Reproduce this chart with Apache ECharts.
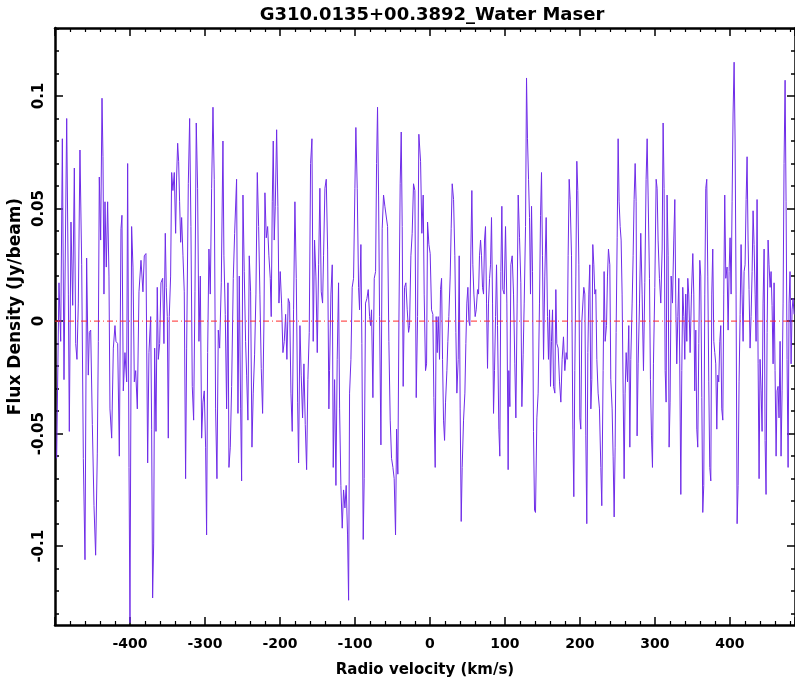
<!DOCTYPE html>
<html>
<head>
<meta charset="utf-8">
<script src="https://cdn.jsdelivr.net/npm/echarts@6/dist/echarts.min.js"></script>
<style>html,body{margin:0;padding:0;background:#fff}#c{width:795px;height:683px}</style>
</head>
<body>
<div id="c"></div>
<script>
const velocity = [
-497.8,-494.7,-492.4,-490.2,-488.0,-484.4,-482.2,-480.9,-478.7,-476.4,
-474.2,-472.4,-470.7,-468.9,-466.7,-464.4,-462.2,-460.0,-457.8,-455.6,
-454.2,-452.4,-450.2,-448.0,-445.8,-443.6,-442.2,-440.9,-439.1,-437.3,
-436.0,-434.7,-433.3,-431.6,-429.8,-428.0,-426.7,-424.4,-422.2,-420.0,
-418.7,-416.4,-414.2,-412.0,-410.7,-408.9,-406.7,-404.4,-403.1,-401.3,
-400.0,-397.8,-396.0,-394.2,-392.4,-390.2,-388.0,-385.3,-382.7,-380.9,
-378.7,-376.4,-374.7,-372.4,-371.1,-369.8,-368.4,-367.1,-365.3,-363.6,
-362.2,-360.4,-358.7,-356.4,-354.7,-352.9,-351.6,-350.2,-348.9,-347.6,
-345.8,-344.4,-342.7,-340.9,-339.1,-337.8,-336.4,-335.1,-333.8,-332.4,
-331.1,-329.3,-327.6,-325.8,-324.4,-322.2,-320.4,-318.7,-316.9,-315.1,
-313.3,-311.6,-309.8,-308.0,-306.2,-304.4,-302.7,-300.9,-299.1,-297.8,
-296.4,-294.7,-292.9,-291.1,-289.3,-287.6,-285.8,-284.0,-282.2,-280.4,
-278.2,-276.0,-274.7,-272.9,-271.1,-269.3,-268.0,-266.2,-264.4,-262.2,
-260.4,
-257.8,-256.0,-254.2,-252.4,-251.1,-249.3,-247.6,-245.8,-244.4,-242.7,
-240.9,-239.1,-237.3,-235.6,-233.8,-232.0,-230.2,-228.4,-226.7,-224.9,
-223.1,-221.3,-220.0,-218.2,-216.4,-214.7,-212.9,-211.6,-210.2,-208.9,
-207.6,-206.2,-204.4,-202.7,-201.3,-199.6,-197.8,-196.0,-194.2,-192.4,
-190.7,-188.9,-187.1,-185.3,-183.6,-181.8,-180.0,-178.2,-176.4,-175.1,
-173.3,-171.6,-169.8,-168.0,-166.2,-164.4,-162.7,-160.9,-159.1,-157.3,
-155.6,-153.8,-152.0,-150.2,-148.4,-146.7,-144.9,-143.1,-141.8,-140.0,
-138.2,-136.4,-134.7,
-133.8,-132.0,-130.2,-128.9,-127.1,-125.3,-123.6,-121.8,-120.4,-118.7,
-116.9,-115.1,-113.3,-111.6,-109.8,-108.4,-107.1,-105.3,-103.6,-101.8,
-100.0,-98.7,-96.9,-95.1,-93.8,-92.0,-90.7,-88.9,-87.6,-85.8,
-84.0,-82.2,-80.4,-79.1,-77.8,-76.0,-74.2,-72.4,-71.1,-69.8,
-68.4,-67.1,-65.3,-63.6,-61.8,-60.0,-58.2,-56.4,-54.7,-52.9,
-51.1,-49.3,-47.6,-45.8,-44.4,-42.7,-41.3,-39.6,-38.2,-36.9,
-35.6,-33.8,-32.0,-30.2,-28.4,-27.1,-25.3,-23.6,-21.8,-20.0,
-18.2,-16.4,-14.7,
-12.4,-10.7,-8.9,-7.6,-5.8,-4.4,-3.1,-1.3,0.4,2.2,
4.0,5.3,7.1,8.4,9.8,11.1,12.9,14.2,15.6,16.9,
18.2,19.6,20.9,22.7,24.0,25.3,27.1,28.4,29.8,31.6,
33.3,34.7,36.0,37.8,39.1,40.4,41.8,43.1,44.9,46.7,
48.0,49.3,50.7,52.0,53.3,54.7,56.0,57.3,58.7,60.4,
61.8,63.6,64.9,66.2,67.6,68.9,70.2,71.6,72.9,74.2,
75.6,76.9,78.2,79.6,80.9,82.2,83.6,84.9,86.2,87.6,
88.9,90.2,92.0,93.3,94.7,96.0,97.3,99.1,100.9,102.7,
104.4,
105.3,106.7,108.0,109.8,111.6,113.3,114.7,116.4,117.8,119.6,
121.3,122.7,124.4,125.8,127.6,128.9,130.2,131.6,132.9,134.2,
135.6,136.9,138.2,139.6,140.9,142.7,144.4,146.2,147.6,148.9,
150.2,151.6,153.3,155.1,156.9,158.2,159.6,160.9,162.2,163.6,
164.9,166.7,168.0,169.3,171.1,172.9,174.7,176.4,178.2,180.0,
181.8,183.1,184.4,185.8,187.1,188.9,190.7,192.0,193.3,194.7,
196.0,197.3,198.7,200.0,201.3,202.7,204.0,205.3,206.7,208.0,
209.3,210.7,212.0,213.3,214.7,216.0,217.3,218.7,220.0,221.3,
222.7,
224.4,226.2,228.0,229.3,231.1,232.4,233.8,235.6,236.9,238.2,
240.0,241.3,243.1,244.4,245.8,247.1,248.4,249.8,251.1,252.4,
253.8,255.1,256.4,257.8,259.1,260.4,261.8,263.6,265.3,266.7,
268.0,269.8,271.1,272.4,273.8,275.1,276.4,277.8,279.6,281.3,
283.1,284.9,286.7,288.4,289.8,291.1,292.9,294.2,295.6,296.9,
298.2,300.0,301.8,303.1,304.4,306.2,308.0,309.8,311.1,312.4,
313.8,315.1,316.4,317.8,319.1,320.4,321.8,323.6,325.3,326.7,
328.0,329.3,330.7,332.0,333.3,334.7,336.0,337.3,338.7,340.0,
341.3,342.7,344.0,345.3,
347.1,348.9,350.7,352.0,353.3,354.7,356.0,357.3,358.7,360.0,
361.3,362.7,364.0,365.3,366.7,368.0,369.3,370.7,372.0,373.3,
374.7,376.0,377.3,378.7,380.0,381.3,382.7,384.0,385.3,386.7,
388.0,389.3,390.7,392.0,393.3,394.7,396.4,397.8,399.1,400.4,
401.8,403.1,404.4,405.8,407.1,408.4,409.8,411.1,412.4,413.8,
415.1,416.4,417.8,419.1,420.4,421.8,423.1,424.4,425.7,427.1,
428.4,429.8,431.1,432.4,433.8,435.1,436.4,437.8,439.1,440.4,
441.8,443.1,444.4,445.8,447.1,448.4,449.8,451.1,452.4,453.8,
455.1,456.4,457.8,459.1,460.4,461.8,463.1,464.4,465.7,467.1,
468.4,469.8,471.1,472.4,473.8,475.1,476.4,477.8,479.1,480.4,
481.8,483.1,484.4,485.8
];
const flux = [
-0.061,0.017,-0.009,0.081,-0.026,0.090,0.012,-0.049,0.044,0.007,
0.068,-0.010,-0.017,0.008,0.076,0.025,-0.061,-0.106,0.028,-0.024,
-0.005,-0.004,-0.046,-0.082,-0.104,-0.059,-0.009,0.064,0.036,0.099,
0.073,0.012,0.053,0.024,0.053,0.020,-0.039,-0.052,-0.012,-0.002,
-0.009,-0.010,-0.060,0.041,0.047,-0.031,-0.014,-0.027,0.070,-0.065,
-0.134,0.042,0.024,-0.027,-0.022,-0.039,0.013,0.027,0.013,0.029,
0.030,-0.063,-0.014,0.002,-0.048,-0.123,-0.099,-0.012,-0.049,0.015,
-0.017,-0.010,0.017,0.019,-0.010,0.039,0.015,0.002,-0.052,0.002,
0.020,0.066,0.058,0.066,0.039,0.064,0.079,0.071,0.053,0.035,
0.046,0.029,0.013,-0.070,-0.012,0.061,0.090,0.042,-0.029,-0.044,
0.013,0.088,0.059,-0.009,0.020,-0.052,-0.036,-0.031,-0.056,-0.095,
-0.014,0.032,0.012,0.059,0.095,0.063,-0.039,-0.070,-0.004,-0.012,
0.017,0.080,0.029,0.003,-0.039,0.017,-0.065,-0.056,-0.029,0.019,
0.039,
0.063,-0.041,0.020,-0.039,-0.071,0.056,0.022,-0.009,-0.024,-0.044,
0.029,0.013,-0.056,-0.032,-0.015,0.012,0.066,0.042,0.012,-0.021,
-0.041,0.000,0.057,0.037,0.042,0.029,0.019,0.002,0.053,0.080,
0.036,0.051,0.085,0.051,0.008,0.022,0.008,-0.014,-0.009,0.003,
-0.017,0.010,0.008,-0.032,-0.049,0.005,0.053,0.019,-0.036,-0.063,
-0.002,-0.024,-0.043,-0.019,-0.046,-0.066,-0.026,-0.005,0.070,0.081,
-0.009,0.036,0.020,-0.014,0.025,0.059,0.013,0.008,0.029,0.059,
0.063,0.032,-0.039,
-0.022,0.012,0.025,-0.065,-0.026,-0.073,-0.017,0.017,-0.039,-0.073,
-0.092,-0.075,-0.083,-0.073,-0.095,-0.124,-0.032,-0.017,0.015,0.019,
0.059,0.086,0.059,0.015,0.005,0.034,-0.010,-0.097,-0.070,0.008,
0.010,0.014,0.002,-0.002,0.005,-0.034,0.019,0.022,0.070,0.095,
0.056,0.002,-0.055,0.041,0.056,0.051,0.051,0.042,-0.009,-0.044,
-0.061,-0.065,-0.070,-0.095,-0.048,-0.068,0.000,0.061,0.084,0.042,
-0.029,0.015,0.017,0.005,-0.005,-0.002,0.029,0.039,0.061,0.058,
-0.034,0.002,0.083,
0.071,0.039,0.056,0.012,-0.022,-0.019,0.044,0.034,0.030,0.005,
0.003,-0.034,-0.065,0.002,-0.014,0.002,-0.017,0.014,0.019,-0.017,
-0.044,-0.053,-0.036,-0.022,-0.009,0.002,0.020,0.041,0.061,0.054,
0.029,-0.005,-0.032,-0.017,0.029,-0.039,-0.089,-0.065,-0.044,-0.032,
-0.010,0.008,0.015,0.000,-0.002,0.032,0.058,0.025,0.012,0.002,
0.005,0.014,0.012,0.029,0.036,0.029,0.015,0.012,0.036,0.042,
0.008,-0.021,0.008,0.019,0.025,0.046,0.008,-0.041,-0.022,0.002,
0.025,-0.002,-0.048,-0.060,0.022,0.051,0.014,0.012,0.042,0.008,
-0.066,
-0.022,-0.038,0.025,0.029,0.012,-0.019,-0.043,0.008,0.056,0.037,
0.017,-0.038,-0.015,0.008,0.042,0.108,0.081,0.063,0.046,0.012,
0.051,0.022,-0.049,-0.084,-0.085,-0.043,-0.032,0.008,0.047,0.066,
0.029,-0.017,0.020,0.046,0.002,-0.017,0.005,-0.029,-0.009,0.005,
-0.029,-0.032,0.014,-0.010,-0.012,-0.027,-0.036,-0.017,-0.007,-0.022,
-0.014,-0.017,0.029,0.063,0.054,0.029,-0.048,-0.078,-0.022,0.020,
0.071,0.058,0.025,-0.043,-0.048,0.000,0.000,0.015,0.012,-0.051,
-0.090,-0.014,0.012,0.025,-0.039,-0.026,0.034,0.025,0.012,0.014,
-0.017,
-0.032,-0.039,-0.065,-0.082,-0.022,0.022,-0.009,-0.002,0.020,0.032,
0.025,-0.026,-0.039,-0.060,-0.087,-0.056,-0.005,0.037,0.081,0.053,
0.042,0.036,0.012,-0.032,-0.070,-0.032,-0.014,-0.027,-0.002,-0.056,
-0.017,0.008,0.029,0.054,0.070,0.053,-0.051,-0.019,0.008,0.039,
0.012,-0.022,0.017,0.063,0.081,0.056,0.019,-0.026,-0.051,-0.065,
-0.019,0.015,0.063,0.059,0.036,0.019,0.008,0.032,0.088,0.059,
-0.022,-0.036,0.056,0.029,-0.056,-0.036,0.020,0.008,0.036,0.054,
0.008,-0.019,0.002,0.019,-0.019,-0.077,-0.022,0.015,0.002,-0.017,
0.012,-0.009,0.019,0.012,
-0.014,0.012,0.030,0.012,-0.031,-0.004,-0.048,-0.056,-0.010,0.027,
0.020,-0.034,-0.085,-0.073,0.012,0.059,0.063,0.020,-0.027,-0.065,
-0.071,0.012,0.032,-0.009,-0.014,-0.019,-0.048,-0.024,-0.027,-0.009,
-0.002,-0.039,-0.044,0.012,0.056,0.019,0.024,-0.004,0.022,0.037,
0.012,0.053,0.092,0.115,0.080,0.012,-0.090,-0.073,-0.027,0.003,
0.034,0.012,-0.009,0.022,0.025,0.054,0.073,0.036,0.014,-0.012,
0.002,0.022,0.049,0.034,0.012,-0.009,0.054,-0.019,-0.070,-0.017,
-0.031,-0.049,0.008,0.032,-0.053,-0.077,-0.005,0.036,0.025,0.015,
0.022,0.007,-0.019,0.017,-0.022,-0.060,-0.031,-0.029,-0.043,-0.009,
-0.060,-0.031,0.008,0.070,0.107,0.053,-0.017,-0.065,0.008,0.022,
-0.019,0.005,0.010,0.003
];
const yMajorTicks = [-0.1, -0.05, 0, 0.05, 0.1];
const yMinorTicks = [-0.13,-0.12,-0.11,-0.09,-0.08,-0.07,-0.06,-0.04,-0.03,-0.02,-0.01,0.01,0.02,0.03,0.04,0.06,0.07,0.08,0.09,0.11,0.12,0.13];
const xRange = [-500, 487];
const yRange = [-0.135, 0.1302];
const baselineValue = 0;
const titleText = 'G310.0135+00.3892_Water Maser';
const xName = 'Radio velocity (km/s)';
const yName = 'Flux Density (Jy/beam)';

if (velocity.length !== flux.length) console.error('length mismatch', velocity.length, flux.length);
const n = Math.min(velocity.length, flux.length);
const data = [];
for (let i = 0; i < n; i++) data.push([velocity[i], flux[i]]);
const baseline = [[xRange[0], baselineValue], [xRange[1], baselineValue]];

const FONT = 'DejaVu Sans';
const lineAxis = { show: true, onZero: false, lineStyle: { color: '#000', width: 2.5 } };
const noLine = { show: false, onZero: false };
function yAx(pos, ticks, len, labels, withLine) {
  return {
    type: 'value', position: pos, min: yRange[0], max: yRange[1],
    axisLine: withLine ? lineAxis : noLine,
    splitLine: { show: false },
    axisTick: { show: true, inside: true, length: len, customValues: ticks, lineStyle: { color: '#000', width: 1.5 } },
    axisLabel: labels ? {
      show: true, customValues: ticks, rotate: 90, margin: 8,
      fontFamily: FONT, fontWeight: 'bold', fontSize: 15, color: '#000',
      formatter: v => String(+v.toFixed(3))
    } : { show: false }
  };
}
const chart = echarts.init(document.getElementById('c'), null, { renderer: 'canvas' });
chart.setOption({
  animation: false,
  backgroundColor: '#fff',
  title: {
    text: titleText, left: 427, top: 1, textAlign: 'center',
    textStyle: { fontFamily: FONT, fontWeight: 'bold', fontSize: 18, color: '#000' }
  },
  grid: { left: 55, right: 0, top: 28, bottom: 58, containLabel: false, outerBoundsMode: 'none' },
  xAxis: [
    {
      type: 'value', position: 'bottom', min: xRange[0], max: xRange[1], interval: 100,
      axisLine: lineAxis, splitLine: { show: false },
      axisTick: { show: true, inside: true, length: 8, lineStyle: { color: '#000', width: 1.5 } },
      minorTick: { show: true, splitNumber: 5, length: 4, lineStyle: { color: '#000', width: 1.2 } },
      axisLabel: { show: true, margin: 12, showMinLabel: false, showMaxLabel: false,
        fontFamily: FONT, fontWeight: 'bold', fontSize: 14, color: '#000' },
      name: xName, nameLocation: 'middle', nameGap: 38,
      nameTextStyle: { fontFamily: FONT, fontWeight: 'bold', fontSize: 15, color: '#000' }
    },
    {
      type: 'value', position: 'top', min: xRange[0], max: xRange[1], interval: 100,
      axisLine: lineAxis, splitLine: { show: false },
      axisTick: { show: true, inside: true, length: 8, lineStyle: { color: '#000', width: 1.5 } },
      minorTick: { show: true, splitNumber: 5, length: 4, lineStyle: { color: '#000', width: 1.2 } },
      axisLabel: { show: false }
    }
  ],
  yAxis: [
    Object.assign(yAx('left', yMajorTicks, 8, true, true), {
      name: yName, nameLocation: 'middle', nameGap: 30,
      nameTextStyle: { fontFamily: FONT, fontWeight: 'bold', fontSize: 17, color: '#000', padding: [0, 0, 0, 40] }
    }),
    yAx('left', yMinorTicks, 4, false, false),
    yAx('right', yMajorTicks, 8, false, true),
    yAx('right', yMinorTicks, 4, false, false)
  ],
  series: [
    {
      type: 'line', data: data, xAxisIndex: 0, yAxisIndex: 0,
      symbol: 'none', smooth: false, z: 2,
      lineStyle: { color: '#6f2ce8', width: 1 }
    },
    {
      type: 'line', data: baseline, xAxisIndex: 0, yAxisIndex: 0,
      symbol: 'none', smooth: false, z: 3, silent: true,
      lineStyle: { color: '#ff2a2a', width: 1, type: [6, 3, 1, 3] }
    }
  ]
});
</script>
</body>
</html>
